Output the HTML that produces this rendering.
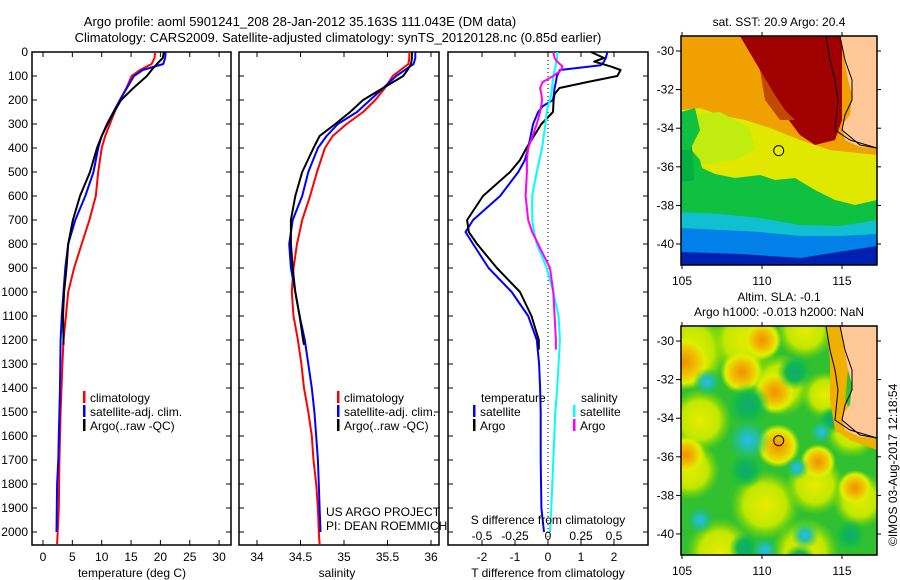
<!DOCTYPE html>
<html><head><meta charset="utf-8"><style>
body{margin:0;background:#fff;}
svg{display:block;font-family:"Liberation Sans",sans-serif;}
</style></head><body>
<svg id="fig" width="900" height="580" viewBox="0 0 900 580">
<defs>
<radialGradient id="gblob"><stop offset="0" stop-color="#10a878"/><stop offset="0.5" stop-color="#10b850"/><stop offset="1" stop-color="#20c040" stop-opacity="0"/></radialGradient>
<radialGradient id="cblob"><stop offset="0" stop-color="#30b8e8"/><stop offset="0.35" stop-color="#20c0b0"/><stop offset="1" stop-color="#20c060" stop-opacity="0"/></radialGradient>
<radialGradient id="oblob"><stop offset="0" stop-color="#f09000"/><stop offset="0.45" stop-color="#f0c000"/><stop offset="0.75" stop-color="#e0f000"/><stop offset="1" stop-color="#c0e800" stop-opacity="0"/></radialGradient>
<radialGradient id="yblob"><stop offset="0" stop-color="#e8ec00"/><stop offset="0.6" stop-color="#c0e800"/><stop offset="1" stop-color="#80d800" stop-opacity="0"/></radialGradient>
<clipPath id="m1"><rect x="681" y="36" width="196" height="229"/></clipPath>
<clipPath id="m2"><rect x="681" y="326" width="196" height="229"/></clipPath>
</defs>
<text x="300" y="26" font-size="13" text-anchor="middle">Argo profile: aoml 5901241_208 28-Jan-2012 35.163S 111.043E (DM data)</text>
<text x="338" y="42" font-size="13" text-anchor="middle">Climatology: CARS2009. Satellite-adjusted climatology: synTS_20120128.nc (0.85d earlier)</text>
<g id="g"></g>
</svg>
<script>
const NS="http://www.w3.org/2000/svg";
const pres=[0,25,50,75,100,150,200,250,300,350,400,500,600,700,800,900,1000,1100,1200,1300,1400,1500,1600,1700,1800,1900,2000,2050];
const tempClim=[19.1,19.0,18.5,16.5,15.1,14.2,13.1,12.2,11.4,10.6,10.0,9.4,9.0,7.9,6.6,5.3,4.3,3.9,3.5,3.3,3.15,3.0,2.9,2.8,2.75,2.7,2.5,2.4];
const tempSat=[20.9,20.8,20.5,17.0,15.5,14.3,13.1,12.0,10.9,10.0,9.4,8.6,7.2,5.5,4.3,3.8,3.5,3.2,3.0,2.95,2.9,2.8,2.7,2.6,2.4,2.35,2.3];
const presArgo=[0,25,50,75,100,150,200,250,300,350,400,500,600,700,800,900,1000,1100,1200,1220];
const tempArgo=[20.6,20.4,19.4,18.5,17.7,15.4,13.3,12.1,11.0,10.0,9.2,8.0,6.3,5.1,4.3,4.0,3.6,3.4,3.5,3.5];
const salClim=[35.75,35.75,35.74,35.65,35.56,35.47,35.36,35.22,35.03,34.87,34.78,34.69,34.61,34.52,34.46,34.42,34.40,34.42,34.47,34.51,34.54,34.59,34.63,34.65,34.68,34.70,34.71,34.72];
const salSat=[35.82,35.82,35.80,35.70,35.60,35.45,35.30,35.15,34.93,34.80,34.70,34.59,34.52,34.41,34.37,34.39,34.44,34.49,34.55,34.59,34.63,34.66,34.68,34.70,34.71,34.72,34.73];
const salArgo=[35.78,35.78,35.77,35.73,35.68,35.45,35.22,35.07,34.90,34.72,34.65,34.52,34.44,34.39,34.39,34.41,34.44,34.49,34.53,34.54];
const dPres=[0,25,40,55,75,100,125,150,175,200,225,250,300,400,450,500,600,700,750,800,900,1000,1100,1200,1300,1400,1500,1700,1900,2000];
const dTSat=[1.8,1.75,1.7,1.6,0.36,0.27,0.24,0.2,0.18,0.15,-0.15,-0.3,-0.45,-0.6,-0.7,-0.9,-1.45,-2.27,-2.5,-2.27,-1.8,-1.1,-0.6,-0.34,-0.27,-0.24,-0.22,-0.22,-0.2,-0.12];
const dSSat=[0.07,0.07,0.06,0.06,0.05,0.04,0.035,0.03,0.025,0.015,0.0,-0.01,-0.02,-0.045,-0.065,-0.085,-0.12,-0.12,-0.105,-0.085,-0.01,0.04,0.08,0.09,0.08,0.07,0.055,0.04,0.025,0.015];
const aPres=[0,25,40,60,75,100,125,150,175,200,250,300,400,450,500,600,700,750,800,900,1000,1100,1200,1240];
const dTArgo=[1.3,1.7,1.4,1.9,2.2,2.1,1.2,0.35,0.2,0.17,0.15,-0.2,-0.65,-0.85,-1.15,-1.97,-2.45,-2.4,-2.15,-1.55,-0.85,-0.5,-0.28,-0.28];
const dSArgo=[0.04,0.05,0.07,0.11,0.1,0.04,-0.04,-0.06,-0.05,-0.045,-0.06,-0.085,-0.15,-0.16,-0.16,-0.17,-0.15,-0.12,-0.075,0.015,0.04,0.05,0.06,0.06];
const depthTicks=[0,100,200,300,400,500,600,700,800,900,1000,1100,1200,1300,1400,1500,1600,1700,1800,1900,2000];
const tTicks=[0,5,10,15,20,25,30];
const sTicks=[34,34.5,35,35.5,36];
const sTickLabels=["34","34.5","35","35.5","36"];
const dTTicks=[-2,-1,0,1,2];
const dSTicks=[-0.5,-0.25,0,0.25,0.5];
const dSLabels=["-0.5","-0.25","0","0.25","0.5"];
const latTicks=[-30,-32,-34,-36,-38,-40];
const lonTicks=[105,110,115];
const argoLon=111.043, argoLat=-35.163;

const yP=p=>52+p*0.24;
const tx=t=>43+t*5.87;
const sx=s=>257+(s-34)*87;
const dx=d=>548+d*33;
const sdx=s=>548+s*132;
const lonX=l=>682+(l-105)*16;
const latY1=l=>51+(-30-l)*19.3;
const latY2=l=>341+(-30-l)*19.3;
const G=document.getElementById('g');
function el(tag,attrs,parent){const e=document.createElementNS(NS,tag);for(const k in attrs)e.setAttribute(k,attrs[k]);(parent||G).appendChild(e);return e;}
function txt(x,y,s,anchor,size,parent){const e=el('text',{x:x,y:y,'font-size':size||12,'text-anchor':anchor||'start'},parent);e.textContent=s;return e;}
function line(xs,ys,color,name,w){
  const pts=xs.map((x,i)=>x.toFixed(1)+','+ys[i].toFixed(1)).join(' ');
  const e=el('polyline',{points:pts,fill:'none',stroke:color,'stroke-width':w||2,'stroke-linejoin':'round'});
  
  
}
function frame(x0,x1,name){
  const r=el('rect',{x:x0,y:52,width:x1-x0,height:493,fill:'none',stroke:'#000','stroke-width':1.5});
  
  
  depthTicks.forEach(p=>{el('line',{x1:x0,x2:x0+5,y1:yP(p),y2:yP(p),stroke:'#000'});el('line',{x1:x1-5,x2:x1,y1:yP(p),y2:yP(p),stroke:'#000'});});
}
function xticks(xs){xs.forEach(x=>{el('line',{x1:x,x2:x,y1:52,y2:57,stroke:'#000'});el('line',{x1:x,x2:x,y1:540,y2:545,stroke:'#000'});});}

frame(32,231,'temperature-plot-frame');
xticks(tTicks.map(tx));
depthTicks.forEach(p=>{const t=txt(28,yP(p)+4,String(p),'end',12);});
tTicks.forEach(t=>{const e=txt(tx(t),561,String(t),'middle',12);});
{const e=txt(132,577,'temperature (deg C)','middle',12);}
line(tempClim.map(tx),pres.map(yP),'#f00','temp-climatology-line');
line(tempSat.map(tx),pres.slice(0,tempSat.length).map(yP),'#00f','temp-satellite-line');
line(tempArgo.map(tx),presArgo.map(yP),'#000','temp-argo-line');
function legend(x,y,items,name){
  items.forEach((it,i)=>{
    el('rect',{x:x,y:y+i*14-11,width:2.5,height:12,fill:it[0]});
    const t=txt(x+7,y+i*14,it[1],'start',12);
    
    
  });
}
legend(83,402,[['#f00','climatology'],['#00f','satellite-adj. clim.'],['#000','Argo(..raw -QC)']],'temp-legend');

frame(239,439,'salinity-plot-frame');
xticks(sTicks.map(sx));
sTicks.forEach((s,i)=>{const e=txt(sx(s),561,sTickLabels[i],'middle',12);});
{const e=txt(337,577,'salinity','middle',12);}
line(salClim.map(sx),pres.map(yP),'#f00','sal-climatology-line');
line(salSat.map(sx),pres.slice(0,salSat.length).map(yP),'#00f','sal-satellite-line');
line(salArgo.map(sx),presArgo.map(yP),'#000','sal-argo-line');
legend(337,402,[['#f00','climatology'],['#00f','satellite-adj. clim.'],['#000','Argo(..raw -QC)']],'sal-legend');
{const e=txt(326,516,'US ARGO PROJECT','start',12);
 const f=txt(326,530,'PI: DEAN ROEMMICH','start',12);}

frame(448,648,'difference-plot-frame');
xticks(dTTicks.map(dx));
el('line',{x1:548,x2:548,y1:52,y2:545,stroke:'#000','stroke-dasharray':'1,3'});
line(dTSat.map(dx),dPres.map(yP),'#00f','tdiff-satellite-line');
line(dTArgo.map(dx),aPres.map(yP),'#000','tdiff-argo-line');
line(dSSat.map(sdx),dPres.map(yP),'#0ff','sdiff-satellite-line');
line(dSArgo.map(sdx),aPres.map(yP),'#f0f','sdiff-argo-line');
dTTicks.forEach(d=>{const e=txt(dx(d),561,String(d),'middle',12);});
dSTicks.forEach((d,i)=>{const e=txt(sdx(d),540,dSLabels[i],'middle',12);});
{const e=txt(548,524,'S difference from climatology','middle',12);
 const f=txt(548,577,'T difference from climatology','middle',12);}
{const a=txt(481,402,'temperature','start',12);
 const b=txt(581,402,'salinity','start',12);}
legend(473,416,[['#00f','satellite'],['#000','Argo']],'tdiff-legend');
legend(573,416,[['#0ff','satellite'],['#f0f','Argo']],'sdiff-legend');

function mapAxes(y0,latY,name){
  const r=el('rect',{x:681,y:y0,width:196,height:229,fill:'none',stroke:'#000','stroke-width':1.5});
  
  
  latTicks.forEach(l=>{const y=latY(l);el('line',{x1:676,x2:681,y1:y,y2:y,stroke:'#000'});el('line',{x1:877,x2:881,y1:y,y2:y,stroke:'#000'});
    const t=txt(674,y+4,String(l),'end',12);});
  lonTicks.forEach(l=>{const x=lonX(l);el('line',{x1:x,x2:x,y1:y0-4,y2:y0,stroke:'#000'});el('line',{x1:x,x2:x,y1:y0+229,y2:y0+233,stroke:'#000'});
    const t=txt(x,y0+249,String(l),'middle',12);});
}
// map 1 SST
const c1=el('g',{'clip-path':'url(#m1)'});
el('rect',{x:681,y:36,width:196,height:229,fill:'#f0a000'},c1);
el('polygon',{points:'681,110 700,108 720,115 745,120 770,128 800,140 830,150 877,155 877,230 681,230',fill:'#e0e800'},c1);
el('polygon',{points:'681,115 720,112 750,128 755,150 735,160 700,165',fill:'#c0ec10'},c1);
el('polygon',{points:'681,150 690,148 700,160 702,168 715,174 735,178 760,175 775,180 795,178 815,190 835,200 855,205 877,200 877,265 681,265',fill:'#10c040'},c1);
el('polygon',{points:'681,148 692,146 694,180 681,182',fill:'#00b040'},c1);
el('polygon',{points:'681,112 695,108 700,130 690,150 681,150',fill:'#10c040'},c1);
el('polygon',{points:'681,212 720,214 760,218 800,225 840,226 877,220 877,265 681,265',fill:'#10c0d0'},c1);
el('polygon',{points:'681,228 720,230 760,232 800,236 840,236 877,234 877,265 681,265',fill:'#0080e8'},c1);
el('polygon',{points:'681,252 740,254 800,258 877,246 877,265 681,265',fill:'#0020b0'},c1);
el('polygon',{points:'740,36 842,36 842,120 835,140 815,145 800,135 785,115 770,95 760,70',fill:'#a00000'},c1);
el('polygon',{points:'760,70 775,95 785,110 795,120 780,120 765,100',fill:'#c04a00'},c1);
el('polygon',{points:'840,36 877,36 877,148 860,147 845,140 842,125 850,115 852,95 848,80',fill:'#ffc896'},c1);
el('polyline',{points:'826,36 830,60 835,80 838,100 835,130 850,140 877,148',fill:'none',stroke:'#000','stroke-width':1},c1);
el('polyline',{points:'840,36 845,60 852,80 852,100 845,115 842,130 860,145 877,148',fill:'none',stroke:'#000','stroke-width':1},c1);
{const c=el('circle',{cx:lonX(argoLon),cy:latY1(argoLat),r:5,fill:'#e8f000',stroke:'#000'},c1);}
mapAxes(36,latY1,'sst-map');
{const t=txt(779,26,'sat. SST: 20.9 Argo: 20.4','middle',12);}

// map 2 SLA
const c2=el('g',{'clip-path':'url(#m2)'});
el('rect',{x:681,y:326,width:196,height:229,fill:'#30c030'},c2);
[[690,350,40],[745,340,35],[805,330,30],[700,420,32],[780,385,32],[825,395,24],[690,470,30],[765,505,35],[815,485,30],[860,500,28],[720,552,34],[805,552,34],[852,430,28]].forEach(b=>el('circle',{cx:b[0],cy:b[1],r:b[2],fill:'url(#yblob)'},c2));
[[684,362,28],[742,372,22],[686,455,20],[778,446,22],[818,462,18],[775,392,22],[762,340,20],[855,488,18]].forEach(b=>el('circle',{cx:b[0],cy:b[1],r:b[2],fill:'url(#oblob)'},c2));
[[748,405,22],[795,372,18],[832,420,14],[746,470,18],[800,560,16],[745,548,16],[850,535,16]].forEach(b=>el('circle',{cx:b[0],cy:b[1],r:b[2],fill:'url(#gblob)'},c2));
[[707,382,14],[748,440,22],[797,468,12],[805,535,14],[821,432,12],[700,520,14],[765,550,14]].forEach(b=>el('circle',{cx:b[0],cy:b[1],r:b[2],fill:'url(#cblob)'},c2));
el('polygon',{points:'826,326 840,326 850,350 845,400 860,430 877,440 877,450 850,440 835,430 830,400 830,360',fill:'#f0b000'},c2);
el('polygon',{points:'840,326 877,326 877,438 860,437 845,430 842,415 850,405 852,385 848,370',fill:'#ffc896'},c2);
el('polyline',{points:'826,326 830,350 835,370 838,390 835,420 850,430 877,438',fill:'none',stroke:'#000','stroke-width':1},c2);
el('polyline',{points:'840,326 845,350 852,370 852,390 845,405 842,420 860,435 877,438',fill:'none',stroke:'#000','stroke-width':1},c2);
{const c=el('circle',{cx:lonX(argoLon),cy:latY2(argoLat),r:5,fill:'none',stroke:'#000'},c2);}
mapAxes(326,latY2,'sla-map');
{const t=txt(779,301,'Altim. SLA: -0.1','middle',12);
 const u=txt(779,316,'Argo h1000: -0.013 h2000: NaN','middle',12);}
{const t=txt(0,0,'©IMOS 03-Aug-2017 12:18:54','start',12);t.setAttribute('transform','translate(897,546) rotate(-90)');}
</script>
</body></html>
